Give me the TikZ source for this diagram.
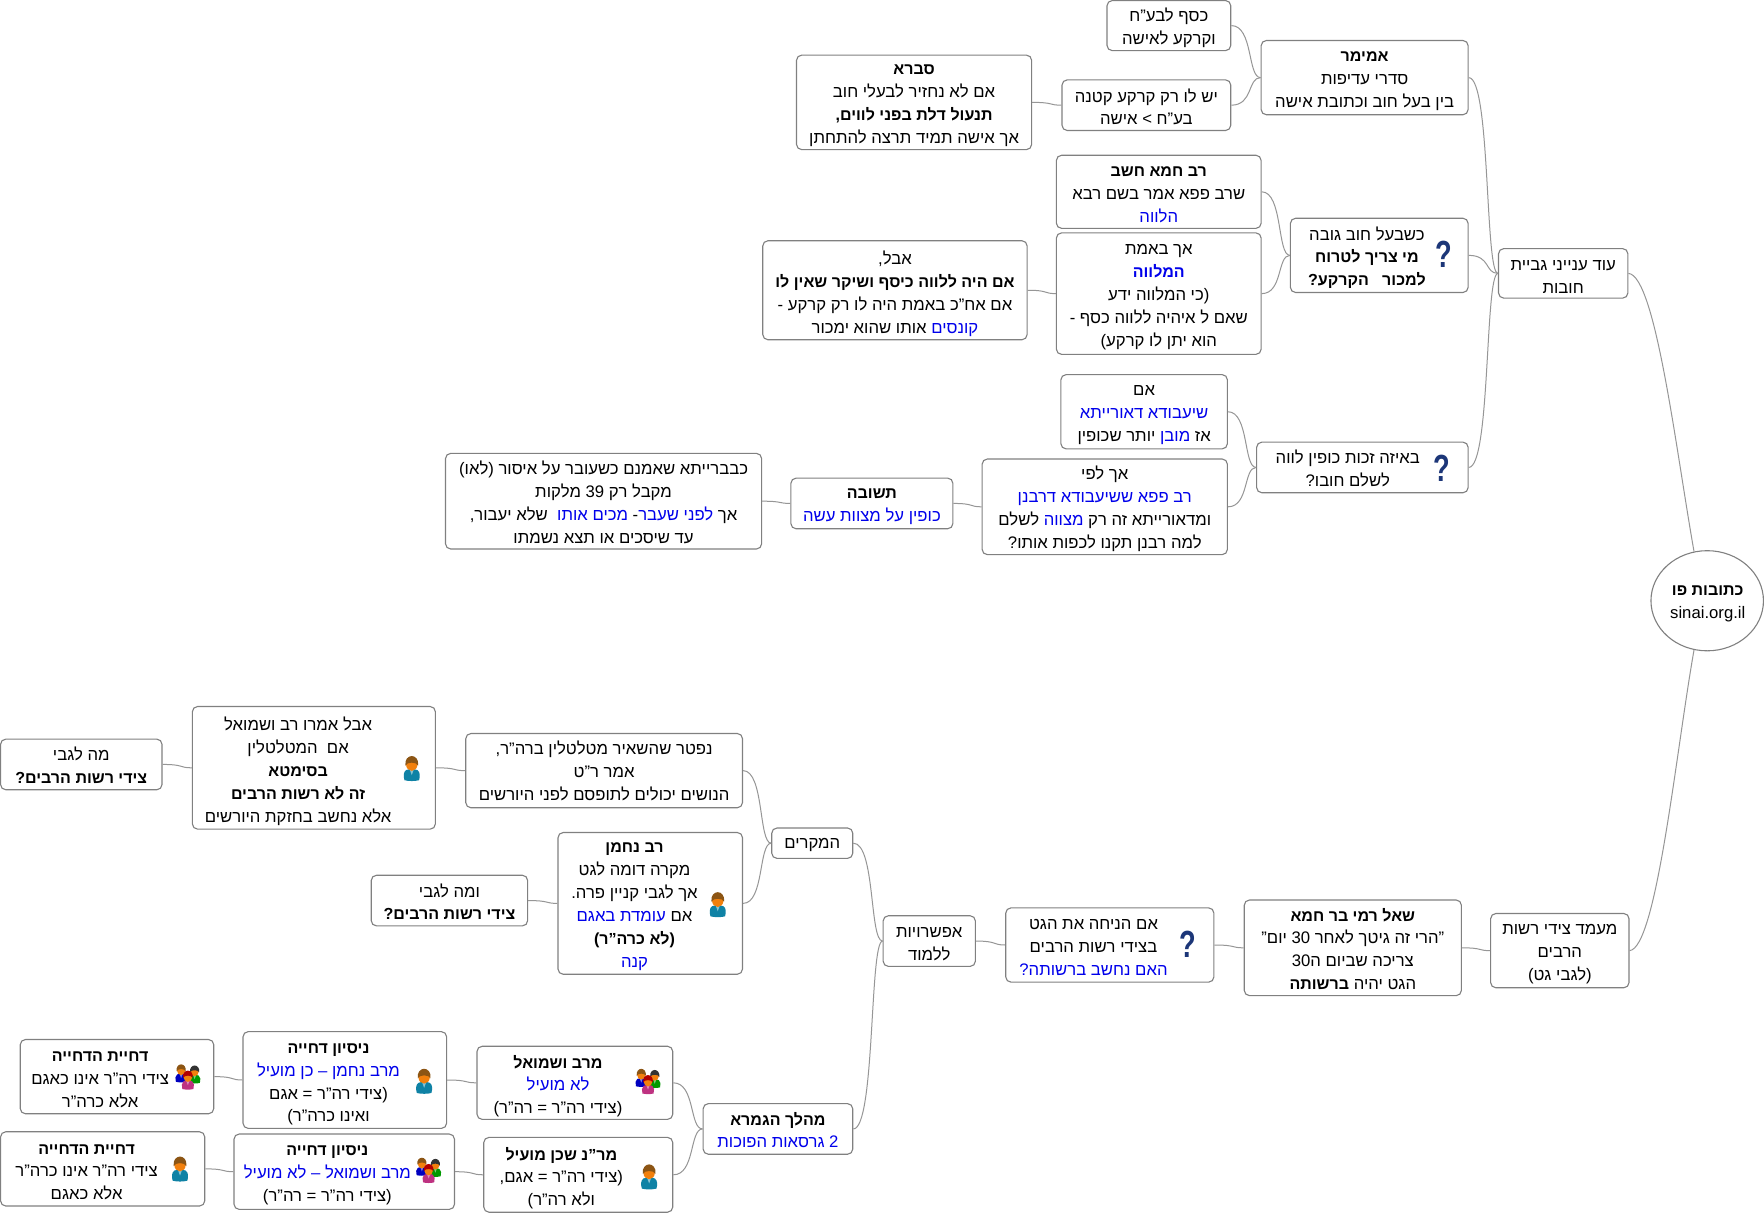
\documentclass[tikz,border=0pt]{standalone}
\usepackage{fontspec}
\usepackage{graphicx}
\usetikzlibrary{calc,shapes.geometric}
\setmainfont[Script=Hebrew,BoldFeatures={Scale=0.96}]{Liberation Sans}
\TeXXeTstate=1
\newcommand\rl[1]{\beginR #1\endR}
\newcommand\blu[1]{\beginL\textcolor{hblue}{\beginR #1\endR}\endL}
\definecolor{hblue}{RGB}{0,0,235}
\definecolor{edgegray}{RGB}{128,128,128}
\definecolor{linkgray}{RGB}{150,150,150}
\definecolor{qnavy}{RGB}{28,54,120}
\tikzset{
 box/.style={draw=edgegray,line width=0.55pt,rounded corners=2.6pt,fill=white,inner sep=0pt},
 txt/.style={inner sep=0pt,align=center,font=\fontsize{8.35}{11.45}\selectfont},
 link/.style={draw=linkgray,line width=0.5pt},
 qm/.style={inner sep=0pt,text=qnavy,font=\fontsize{20}{20}\selectfont\bfseries}
}
\def\tshift{3}
% box with its text centred at its own x: name x0 y0 x1 y1 textx text
\newcommand\ibox[7]{\node[box,minimum width={(#4-#2)*0.5625pt},minimum height={(#5-#3)*0.5625pt}] (#1) at ({(#2+#4)/2},{(#3+#5)/2}) {};
 \node[txt] (#1-t) at (#6,{(#3+#5)/2+\tshift}) {#7};\gdef\tshift{3}}
% box with centred text: name x0 y0 x1 y1 text
\newcommand\nbox[6]{\ibox{#1}{#2}{#3}{#4}{#5}{{(#2+#4)/2}}{#6}}
\newcommand\tsh[1]{\gdef\tshift{#1}}
\newcommand\conn[2]{\draw[link] let \p1=(#1.east),\p2=(#2.west) in (\p1) .. controls ({\x1+0.75*(\x2-\x1)},\y1) and ({\x1+0.55*(\x2-\x1)},\y2) .. (\p2);}
\newcommand\fig[5]{\begin{scope}[shift={(#1,#2)},scale=#3]
 \fill[#5] (-6.5,10.5) .. controls (-7.5,7) and (-7.5,3) .. (-5,1.5) .. controls (-3,0.5) and (3,0.5) .. (5,1.5) .. controls (7.5,3) and (7.5,7) .. (6.5,10.5) .. controls (3,11.5) and (-3,11.5) .. (-6.5,10.5) -- cycle;
 \fill[#5!50!white] (-1.8,1) -- (1.8,1) -- (0,6) -- cycle;
 \fill[orange!80!brown] (0,-3.2) ellipse (5 and 5.4);
 \fill[#4] (-5.6,-2.5) .. controls (-6.5,-8) and (-3,-11) .. (0,-11) .. controls (3,-11) and (6.5,-8) .. (5.6,-2.5) .. controls (4.5,-6) and (-4.5,-6) .. (-5.6,-2.5) -- cycle;
\end{scope}}
\definecolor{hairbr}{RGB}{140,85,20}
\definecolor{bodyt}{RGB}{15,130,165}
\newcommand\person[2]{\fig{#1}{#2}{1}{hairbr}{bodyt}}
\newcommand\people[2]{\fig{#1-6}{#2-3}{0.72}{hairbr}{blue!75!black}\fig{#1+6}{#2-2}{0.72}{black!80}{green!60!black}\fig{#1}{#2+3}{0.76}{red!70!black}{magenta!75!black}}
\begin{document}
\begin{tikzpicture}[x=0.5625pt,y=-0.5625pt]
\useasboundingbox (0,0) rectangle (1568,1078.2);
\fill[white] (0,0) rectangle (1568,1078.2);
% root
\node[draw=edgegray,line width=0.55pt,ellipse,minimum width=100*0.5625pt,minimum height=89*0.5625pt,inner sep=0pt] (root) at (1517.5,534) {};
\node[txt] (root-t) at (1518,537) {\rl{\textbf{כתובות פו}}\\sinai.org.il};
% upper branch
\nbox{od}{1332}{221}{1447}{265}{\rl{עוד ענייני גביית}\\\rl{חובות}}
\nbox{amemar}{1121}{36}{1305}{102}{\rl{\textbf{אמימר}}\\\rl{סדרי עדיפות}\\\rl{בין בעל חוב וכתובת אישה}}
\tsh{2}\nbox{kesef}{984}{0.5}{1094}{45}{\rl{כסף לבע"ח}\\\rl{וקרקע לאישה}}
\tsh{1.5}\nbox{yesh}{944}{71}{1094}{116}{\rl{יש לו רק קרקע קטנה}\\\rl{בע"ח > אישה}}
\nbox{sevara}{708}{49}{917}{133}{\rl{\textbf{סברא}}\\\rl{אם לא נחזיר לבעלי חוב}\\\rl{\textbf{תנעול דלת בפני לווים,}}\\\rl{אך אישה תמיד תרצה להתחתן}}
\nbox{ravch}{939}{138}{1121}{203}{\rl{\textbf{רב חמא חשב}}\\\rl{שרב פפא אמר בשם רבא}\\\rl{\blu{הלווה}}}
\nbox{achb}{939}{207}{1121}{315}{\rl{אך באמת}\\\rl{\blu{\textbf{המלווה}}}\\\rl{(כי המלווה ידע}\\\rl{שאם ל איהיה ללווה כסף -}\\\rl{הוא יתן לו קרקע)}}
\tsh{2}\ibox{kshe}{1147}{194}{1305}{260}{1215}{\rl{כשבעל חוב גובה}\\\rl{\textbf{מי צריך לטרוח}}\\\rl{\textbf{למכור\ \ \ הקרקע?}}}
\nbox{aval}{678}{214}{913}{302}{\rl{אבל,}\\\rl{\textbf{אם היה ללווה כיסף ושיקר שאין לו}}\\\rl{אם אח"כ באמת היה לו רק קרקע -}\\\rl{\blu{קונסים} אותו שהוא ימכור}}
\tsh{1}\ibox{baeize}{1117}{393}{1305}{438}{1198}{\rl{באיזה זכות כופין לווה}\\\rl{לשלם חובו?}}
\nbox{imm}{943}{333}{1091}{399}{\rl{אם}\\\rl{\blu{שיעבודא דאורייתא}}\\\rl{אז \blu{מובן} יותר שכופין}}
\tsh{2}\nbox{achl}{873}{408}{1091}{493}{\rl{אך לפי}\\\rl{\blu{רב פפא ששיעבודא דרבנן}}\\\rl{ומדאורייתא זה רק \blu{מצווה} לשלם}\\\rl{למה רבנן תקנו לכפות אותו?}}
\nbox{teshuva}{703}{425}{847}{470}{\rl{\textbf{תשובה}}\\\rl{\blu{כופין על מצוות עשה}}}
\tsh{1}\nbox{kvav}{396}{403}{677}{488}{\rl{כבברייתא שאמנם כשעובר על איסור (לאו)}\\\rl{מקבל רק \beginL 39\endL{} מלקות}\\\rl{אך \blu{לפני שעבר}- \blu{מכים אותו}\ \ שלא יעבור,}\\\rl{עד שיסכים או תצא נשמתו}}
% lower branch
\nbox{maamad}{1325}{812}{1448}{878}{\rl{מעמד צידי רשות}\\\rl{הרבים}\\\rl{(לגבי גט)}}
\tsh{1}\nbox{shaal}{1106}{800}{1299}{885}{\rl{\textbf{שאל רמי בר חמא}}\\\rl{"הרי זה גיטך לאחר \beginL 30\endL{} יום"}\\\rl{צריכה שביום ה\beginL 30\endL}\\\rl{הגט יהיה \textbf{ברשותה}}}
\tsh{2}\ibox{imh}{894}{807}{1079}{873}{972}{\rl{אם הניחה את הגט}\\\rl{בצידי רשות הרבים}\\\rl{\blu{האם נחשב ברשותה?}}}
\nbox{efsh}{785}{814}{867}{859}{\rl{אפשרויות}\\\rl{ללמוד}}
\tsh{2}\nbox{hamik}{686}{736}{758}{763}{\rl{המקרים}}
\tsh{0}\nbox{nifter}{414}{652}{660}{718}{\rl{נפטר שהשאיר מטלטלין ברה"ר,}\\\rl{אמר ר"ט}\\\rl{הנושים יכולים לתופסם לפני היורשים}}
\ibox{avala}{171}{628}{387}{737}{265}{\rl{אבל אמרו רב ושמואל}\\\rl{אם\ \ המטלטלין}\\\rl{\textbf{בסימטא}}\\\rl{\textbf{זה לא רשות הרבים}}\\\rl{אלא נחשב בחזקת היורשים}}
\tsh{1}\nbox{male}{0.5}{657}{144}{702}{\rl{מה לגבי}\\\rl{\textbf{צידי רשות הרבים?}}}
\ibox{ravn}{496}{740}{660}{866}{564}{\rl{\textbf{רב נחמן}}\\\rl{מקרה דומה לגט}\\\rl{אך לגבי קניין פרה.}\\\rl{אם \blu{עומדת באגם}}\\\rl{\textbf{(לא כרה"ר)}}\\\rl{\blu{קנה}}}
\tsh{1}\nbox{uma}{330}{778}{469}{823}{\rl{ומה לגבי}\\\rl{\textbf{צידי רשות הרבים?}}}
\tsh{1}\nbox{mahal}{625}{981}{758}{1026}{\rl{\textbf{מהלך הגמרא}}\\\rl{\blu{\beginL 2\endL{} גרסאות הפוכות}}}
\ibox{mirav}{424}{930}{598}{995}{496}{\rl{\textbf{מרב ושמואל}}\\\rl{\blu{לא מועיל}}\\\rl{(צידי רה"ר = רה"ר)}}
\tsh{4}\ibox{nisa}{216}{917}{397}{1003}{292}{\rl{\textbf{ניסיון דחייה}}\\\rl{\blu{מרב נחמן – כן מועיל}}\\\rl{(צידי רה"ר = אגם}\\\rl{ואינו כרה"ר)}}
\ibox{dcha}{18}{924}{190}{990}{89}{\rl{\textbf{דחיית הדחייה}}\\\rl{צידי רה"ר אינו כאגם}\\\rl{אלא כרה"ר}}
\ibox{marn}{430}{1011}{598}{1077.5}{499}{\rl{\textbf{מר"נ שכן מועיל}}\\\rl{(צידי רה"ר = אגם,}\\\rl{ולא רה"ר)}}
\ibox{nisb}{208}{1008}{404}{1075}{291}{\rl{\textbf{ניסיון דחייה}}\\\rl{\blu{מרב ושמואל – לא מועיל}}\\\rl{(צידי רה"ר = רה"ר)}}
\ibox{dchb}{0.5}{1006}{182}{1072}{77}{\rl{\textbf{דחיית הדחייה}}\\\rl{צידי רה"ר אינו כרה"ר}\\\rl{אלא כאגם}}
% icons
\node[qm] (q1) at (1283,226) {\resizebox{!}{13.2pt}{\scalebox{0.72}[1]{?}}};
\node[qm] (q2) at (1282,416) {\resizebox{!}{13.2pt}{\scalebox{0.72}[1]{?}}};
\node[qm] (q3) at (1056,839) {\resizebox{!}{13.2pt}{\scalebox{0.72}[1]{?}}};
\person{366}{683}
\person{638}{804}
\person{377}{961}
\person{577}{1046}
\person{160}{1039}
\people{167}{957}
\people{576}{961}
\people{381}{1040}
% connectors
\draw[link] (od.east) .. controls +(24,2) and +(-16,-90) .. (root.105);
\draw[link] (maamad.east) .. controls +(24,-2) and +(-16,90) .. (root.255);
\conn{amemar}{od}
\conn{kshe}{od}
\conn{baeize}{od}
\conn{kesef}{amemar}
\conn{yesh}{amemar}
\conn{sevara}{yesh}
\conn{ravch}{kshe}
\conn{achb}{kshe}
\conn{aval}{achb}
\conn{imm}{baeize}
\conn{achl}{baeize}
\conn{teshuva}{achl}
\conn{kvav}{teshuva}
\conn{shaal}{maamad}
\conn{imh}{shaal}
\conn{efsh}{imh}
\conn{hamik}{efsh}
\conn{mahal}{efsh}
\conn{nifter}{hamik}
\conn{ravn}{hamik}
\conn{avala}{nifter}
\conn{male}{avala}
\conn{uma}{ravn}
\conn{mirav}{mahal}
\conn{marn}{mahal}
\conn{nisa}{mirav}
\conn{dcha}{nisa}
\conn{nisb}{marn}
\conn{dchb}{nisb}
\end{tikzpicture}
\end{document}
